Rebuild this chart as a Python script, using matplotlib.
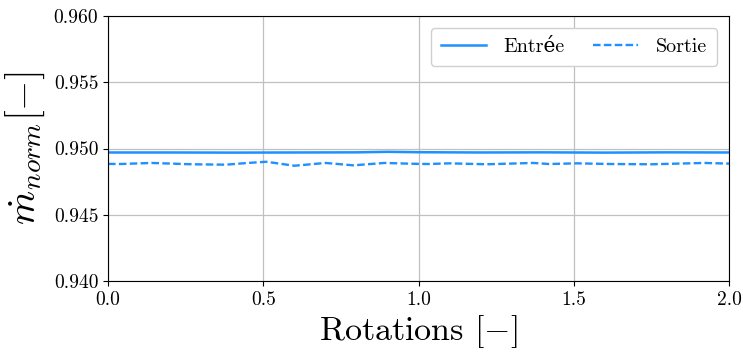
import numpy as np
import matplotlib
matplotlib.use("Agg")
import matplotlib.pyplot as plt
from matplotlib.ticker import FormatStrFormatter, MultipleLocator

plt.rcParams['mathtext.fontset'] = 'cm'
plt.rcParams['font.family'] = ['cmr10', 'DejaVu Serif']
plt.rcParams['axes.formatter.use_mathtext'] = True

# data
rot_in = [0.0, 0.2, 0.4, 0.6, 0.8, 0.9, 1.0, 1.2, 1.4, 1.6, 1.8, 2.0]
m_in = [0.94970, 0.94970, 0.94969, 0.94970, 0.94971, 0.94975, 0.94972,
        0.94970, 0.94971, 0.94969, 0.94971, 0.94970]

rot_out = [0.0, 0.04, 0.14, 0.27, 0.38, 0.45, 0.51, 0.60, 0.70, 0.79, 0.89,
           0.98, 1.03, 1.10, 1.22, 1.37, 1.42, 1.51, 1.62, 1.75, 1.92, 2.0]
m_out = [0.94884, 0.94883, 0.94891, 0.94881, 0.94878, 0.94891, 0.94900,
         0.94870, 0.94891, 0.94873, 0.94891, 0.94885, 0.94883, 0.94888,
         0.94881, 0.94891, 0.94883, 0.94888, 0.94883, 0.94881, 0.94891, 0.94886]

col = '#1e90ff'

fig = plt.figure(figsize=(7.43, 3.52), dpi=100)
ax = fig.add_axes([0.1454, 0.2017, 0.8358, 0.7528])
ax.plot(rot_in, m_in, color=col, lw=1.8, label='Entrée')
ax.plot(rot_out, m_out, color=col, lw=1.7, ls='--', dashes=(3.2, 1.4), label='Sortie')

ax.set_xlim(0, 2)
ax.set_ylim(0.940, 0.960)
ax.xaxis.set_major_locator(MultipleLocator(0.5))
ax.yaxis.set_major_locator(MultipleLocator(0.005))
ax.xaxis.set_major_formatter(FormatStrFormatter('%.1f'))
ax.yaxis.set_major_formatter(FormatStrFormatter('%.3f'))
ax.tick_params(labelsize=14)
ax.grid(True, color='#c0c0c0', lw=0.9)
ax.set_axisbelow(True)

ax.set_xlabel(r'Rotations $[-]$', fontsize=24.5, labelpad=3)
ax.set_ylabel(r'$\dot{m}_{norm}[-]$', fontsize=28, labelpad=5)

ax.legend(loc='upper right', ncol=2, fontsize=14.5, columnspacing=1.4,
          handlelength=2.2, handletextpad=0.9, framealpha=1,
          edgecolor='#d0d0d0', borderaxespad=0.6, borderpad=0.5)

fig.savefig('out.png', dpi=100)
